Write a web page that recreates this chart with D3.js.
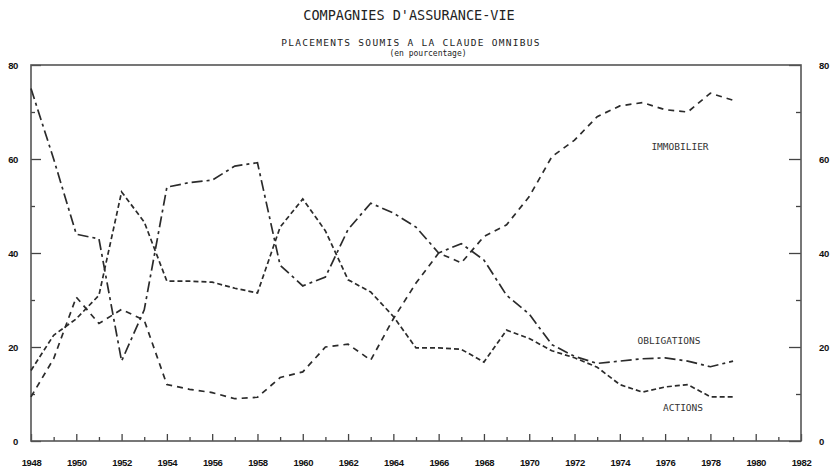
<!DOCTYPE html>
<html>
<head>
<meta charset="utf-8">
<script src="https://cdn.jsdelivr.net/npm/d3@7"></script>
<style>
  body { margin: 0; background: #fff; }
  text { fill: #222; }
  .titre { font-family: "DejaVu Sans Mono", monospace; }
  .tick text { font-family: "Liberation Sans", Arial, sans-serif; font-weight: bold; font-size: 9.5px; letter-spacing: -0.4px; fill: #111; }
  .tick line { stroke: #444; stroke-width: 1.3; }
  .serie { fill: none; stroke: #2b2b2b; stroke-width: 1.7; }
  .etiquette { font-family: "DejaVu Sans Mono", monospace; font-size: 9.5px; fill: #333; }
</style>
</head>
<body>
<script>
// Donnees (en pourcentage)
const annees = d3.range(1948, 1980);
const immobilier = [9.4, 17.5, 30.6, 25, 28, 25.7, 12, 11, 10.3, 9, 9.3, 13.5, 14.7, 20, 20.6, 17.2,
  26, 33.6, 40, 37.9, 43.5, 46, 52, 60.5, 64, 69, 71.3, 72, 70.5, 70, 74, 72.5];
const obligations = [75, 60, 44, 43, 17, 27.9, 54, 55, 55.5, 58.5, 59.2, 37.4, 33, 34.9, 45, 50.6,
  48.5, 45.5, 40, 42, 38.5, 31, 27, 20.5, 18, 16.5, 17, 17.5, 17.7, 17, 15.8, 17];
const actions = [15, 22.5, 26, 31, 53, 46.6, 34, 34, 33.8, 32.5, 31.5, 45.5, 51.5, 44.7, 34.3, 31.7,
  26.5, 19.8, 19.8, 19.5, 16.8, 23.6, 21.8, 19.2, 17.7, 15.7, 12, 10.4, 11.5, 12, 9.4, 9.4];

const series = [
  {nom: "IMMOBILIER", valeurs: immobilier, tirets: "6,5", lx: 680, ly: 147},
  {nom: "OBLIGATIONS", valeurs: obligations, tirets: "11,4,3,4", lx: 669, ly: 341},
  {nom: "ACTIONS", valeurs: actions, tirets: "5,3", lx: 683, ly: 408}
];

const anneesAxe = d3.range(1948, 1983);
const valeursY = [0, 20, 40, 60, 80];

// Dimensions
const width = 834, height = 472;
const margin = {top: 65, right: 33, bottom: 31, left: 31};

const svg = d3.select("body").append("svg")
  .attr("width", width)
  .attr("height", height);

const x = d3.scaleLinear().domain([1948, 1982]).range([margin.left, width - margin.right]);
const y = d3.scaleLinear().domain([0, 80]).range([height - margin.bottom, margin.top]);

// Titres
svg.append("text").attr("class", "titre")
  .attr("x", 409).attr("y", 20)
  .attr("text-anchor", "middle")
  .style("font-size", "13.5px")
  .text("COMPAGNIES D'ASSURANCE-VIE");

svg.append("text").attr("class", "titre")
  .attr("x", 411).attr("y", 46)
  .attr("text-anchor", "middle")
  .style("font-size", "9.5px")
  .style("letter-spacing", "1.3px")
  .text("PLACEMENTS SOUMIS A LA CLAUDE OMNIBUS");

svg.append("text").attr("class", "titre")
  .attr("x", 428).attr("y", 56)
  .attr("text-anchor", "middle")
  .style("font-size", "8px")
  .text("(en pourcentage)");

// Axe des x : grands et petits traits vers l'interieur
const xMajeur = d3.axisBottom(x)
  .tickValues(anneesAxe.filter(a => a % 2 === 0))
  .tickFormat(d3.format("d"))
  .tickSize(-7).tickSizeOuter(0).tickPadding(18);
const xMineur = d3.axisBottom(x)
  .tickValues(anneesAxe.filter(a => a % 2 === 1))
  .tickFormat("").tickSize(-4).tickSizeOuter(0);

svg.append("g").attr("transform", `translate(0,${y(0)})`).call(xMajeur).call(g => g.select(".domain").remove());
svg.append("g").attr("transform", `translate(0,${y(0)})`).call(xMineur).call(g => g.select(".domain").remove());

// Axes des y (gauche et droite)
const yGauche = d3.axisLeft(y).tickValues(valeursY).tickFormat(d3.format("d"))
  .tickSize(-10).tickSizeOuter(0).tickPadding(13);
const yGaucheMin = d3.axisLeft(y).tickValues([10, 30, 50, 70]).tickFormat("").tickSize(-4);
const yDroite = d3.axisRight(y).tickValues(valeursY).tickFormat(d3.format("d"))
  .tickSize(-12).tickSizeOuter(0).tickPadding(18);
const yDroiteMin = d3.axisRight(y).tickValues([10, 30, 50, 70]).tickFormat("").tickSize(-5);

[[yGauche, x(1948)], [yGaucheMin, x(1948)], [yDroite, x(1982)], [yDroiteMin, x(1982)]].forEach(([ax, pos]) => {
  svg.append("g").attr("transform", `translate(${pos},0)`).call(ax).call(g => g.select(".domain").remove());
});

// Cadre
svg.append("rect")
  .attr("x", x(1948)).attr("y", y(80))
  .attr("width", x(1982) - x(1948)).attr("height", y(0) - y(80))
  .attr("fill", "none").attr("stroke", "#555").attr("stroke-width", 1.6);

// Courbes
const ligne = d3.line()
  .x((d, i) => x(annees[i]))
  .y(d => y(d));

svg.selectAll(".serie")
  .data(series)
  .enter().append("path")
  .attr("class", "serie")
  .attr("stroke-dasharray", d => d.tirets)
  .attr("d", d => ligne(d.valeurs));

svg.selectAll(".etiquette")
  .data(series)
  .enter().append("text")
  .attr("class", "etiquette")
  .attr("x", d => d.lx).attr("y", d => d.ly)
  .attr("text-anchor", "middle")
  .attr("dy", "0.35em")
  .text(d => d.nom);
</script>
</body>
</html>
